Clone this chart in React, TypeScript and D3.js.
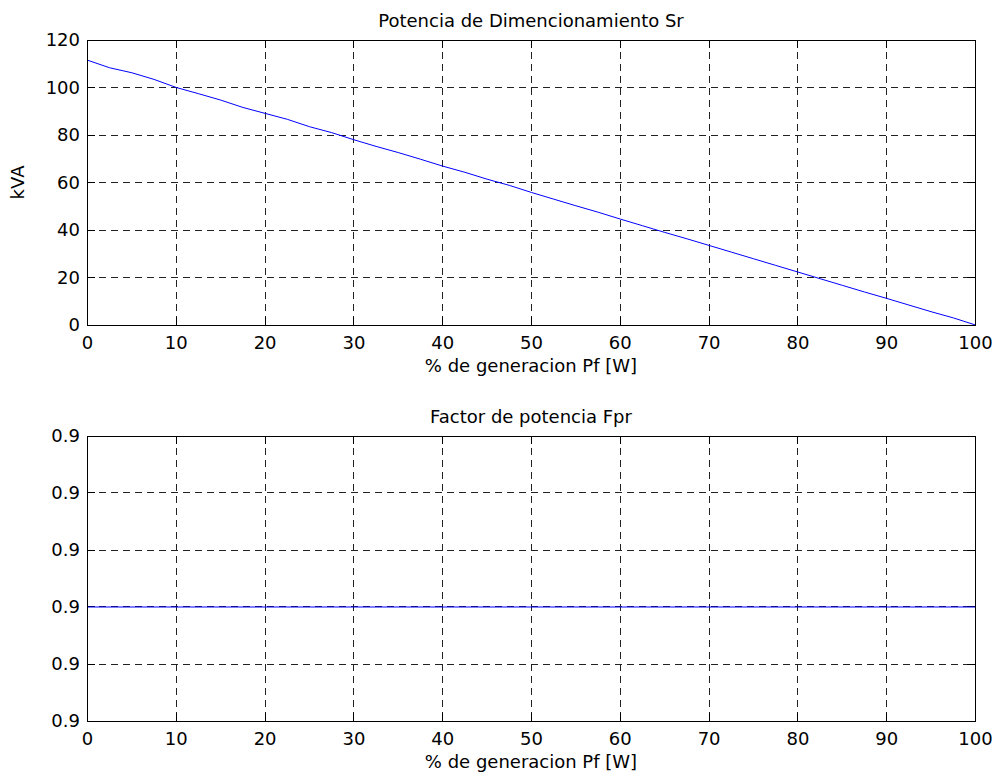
import React from 'react';
import * as d3 from 'd3';

const xGen = [0, 2.5, 5, 7.5, 10, 12.5, 15, 17.5, 20, 22.5, 25, 27.5, 30, 32.5, 35, 37.5, 40, 42.5, 45, 47.5, 50, 52.5, 55, 57.5, 60, 62.5, 65, 67.5, 70, 72.5, 75, 77.5, 80, 82.5, 85, 87.5, 90, 92.5, 95, 97.5, 100];
const srValues = [111.5, 108.3, 106.2, 103.4, 100.0, 97.4, 94.7, 91.6, 89.1, 86.6, 83.5, 81.0, 78.0, 75.2, 72.6, 69.8, 66.9, 64.3, 61.4, 58.8, 55.8, 53.0, 50.2, 47.5, 44.6, 41.8, 39.0, 36.3, 33.5, 30.7, 27.9, 25.1, 22.3, 19.5, 16.7, 13.9, 11.2, 8.4, 5.6, 3.0, 0];
const xFp = [0, 100];
const fprValues = [0.9, 0.9];

const xTicks = [0, 10, 20, 30, 40, 50, 60, 70, 80, 90, 100];
const srTicks = [0, 20, 40, 60, 80, 100, 120];
const fprTicks = [0.8999998, 0.8999999, 0.9, 0.9000001, 0.9000002, 0.9000003];

const FONT = '"DejaVu Sans", Verdana, sans-serif';
const FS = 18;
const LEFT = 87;
const RIGHT = 975;
const TICK = 8;

const Panel = ({ top, bottom, xs, ys, yDomain, yTicks, yFormat, title, yLabel }) => {
  const x = d3.scaleLinear().domain([0, 100]).range([LEFT + 0.5, RIGHT + 0.5]);
  const y = d3.scaleLinear().domain(yDomain).range([bottom, top]);
  const line = d3.line().x((d) => x(d[0])).y((d) => y(d[1]));
  const pts = xs.map((v, i) => [v, ys[i]]);
  const px = (v) => Math.floor(v) + 0.5;

  return (
    <g>
      {/* grid */}
      {xTicks.slice(1, -1).map((t) => (
        <line key={'gx' + t} x1={px(x(t))} x2={px(x(t))} y1={top} y2={bottom} stroke="#222" strokeDasharray="7,5" strokeWidth={1} />
      ))}
      {yTicks.slice(1, -1).map((t, i) => (
        <line key={'gy' + i} x1={LEFT} x2={RIGHT} y1={px(y(t))} y2={px(y(t))} stroke="#222" strokeDasharray="7,5" strokeWidth={1} />
      ))}
      {/* ticks */}
      {xTicks.map((t) => (
        <g key={'tx' + t}>
          <line x1={px(x(t))} x2={px(x(t))} y1={bottom} y2={bottom - TICK} stroke="#000" />
          <line x1={px(x(t))} x2={px(x(t))} y1={top} y2={top + TICK} stroke="#000" />
          <text x={x(t)} y={bottom + 24} textAnchor="middle" fontSize={FS} fontFamily={FONT}>{t}</text>
        </g>
      ))}
      {yTicks.map((t, i) => (
        <g key={'ty' + i}>
          <line x1={LEFT} x2={LEFT + TICK} y1={px(y(t))} y2={px(y(t))} stroke="#000" />
          <line x1={RIGHT} x2={RIGHT - TICK} y1={px(y(t))} y2={px(y(t))} stroke="#000" />
          <text x={80} y={y(t)} dy="0.36em" textAnchor="end" fontSize={FS} fontFamily={FONT}>{yFormat(t)}</text>
        </g>
      ))}
      <path d={line(pts)} fill="none" stroke="#0000ff" strokeWidth={1} />
      <rect x={px(LEFT)} y={px(top)} width={RIGHT - LEFT} height={bottom - top} fill="none" stroke="#000" strokeWidth={1} />
      <text x={(LEFT + RIGHT) / 2} y={top - 13} textAnchor="middle" fontSize={FS} fontFamily={FONT}>{title}</text>
      <text x={(LEFT + RIGHT) / 2} y={bottom + 47} textAnchor="middle" fontSize={FS} fontFamily={FONT}>% de generacion Pf [W]</text>
      {yLabel && (
        <text transform={`translate(24,${(top + bottom) / 2}) rotate(-90)`} textAnchor="middle" fontSize={FS} fontFamily={FONT}>{yLabel}</text>
      )}
    </g>
  );
};

export default function App() {
  return (
    <svg width={996} height={778} style={{ position: 'absolute', left: 0, top: 0, background: '#fff' }}>
      <rect width={996} height={778} fill="#fff" />
      <Panel top={40} bottom={325} xs={xGen} ys={srValues} yDomain={[0, 120]} yTicks={srTicks} yFormat={d3.format('d')} title="Potencia de Dimencionamiento Sr" yLabel="kVA" />
      <Panel top={436} bottom={721} xs={xFp} ys={fprValues} yDomain={[0.8999998, 0.9000003]} yTicks={fprTicks} yFormat={d3.format('.1f')} title="Factor de potencia Fpr" yLabel={null} />
    </svg>
  );
}
